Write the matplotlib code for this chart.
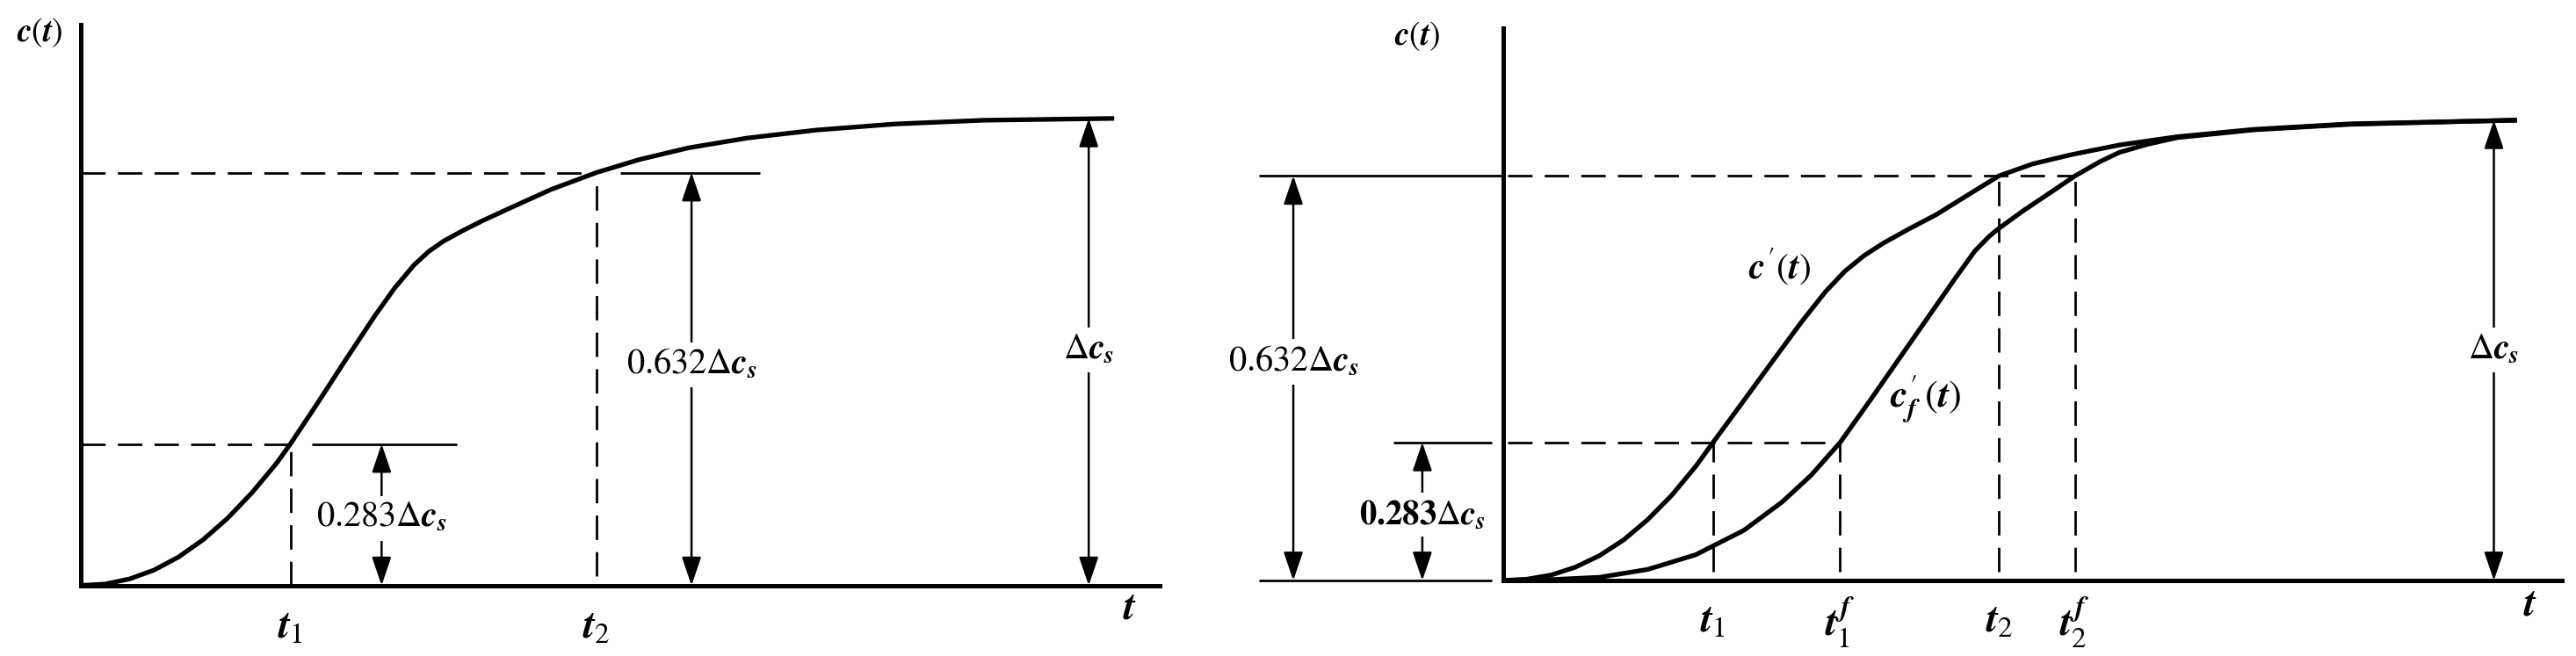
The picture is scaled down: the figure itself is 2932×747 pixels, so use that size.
import numpy as np
import matplotlib.pyplot as plt
from matplotlib.patches import ArrowStyle

# 字体：Times 风格（STIX），变量用粗斜体
plt.rcParams['mathtext.fontset'] = 'custom'
plt.rcParams['mathtext.rm'] = 'STIXGeneral'
plt.rcParams['mathtext.it'] = 'STIXGeneral:italic:bold'
plt.rcParams['mathtext.bf'] = 'STIXGeneral:bold'
plt.rcParams['font.family'] = ['STIXGeneral', 'DejaVu Serif']

# ---- 左图数据 (t, c)，c=1 为稳态值 Δc_s ----
left_t = [0, 0.25, 0.5, 0.75, 1.0, 1.25, 1.5, 1.75, 2.0, 2.14, 2.4, 2.7, 3.0,
          3.2, 3.4, 3.55, 3.7, 3.9, 4.1, 4.4, 4.8, 5.26, 5.7, 6.2, 6.8, 7.5,
          8.3, 9.2, 10.54]
left_c = [0, 0.003, 0.014, 0.033, 0.061, 0.098, 0.144, 0.199, 0.262, 0.303,
          0.385, 0.482, 0.577, 0.636, 0.686, 0.715, 0.737, 0.760, 0.781, 0.81,
          0.848, 0.884, 0.912, 0.937, 0.958, 0.975, 0.988, 0.996, 1.0]
left_t1, left_t2 = 2.14, 5.26
left_lo, left_hi = 0.303, 0.884

# ---- 右图数据 ----
c1_t = [0, 0.25, 0.5, 0.75, 1.0, 1.25, 1.5, 1.75, 2.0, 2.18, 2.5, 2.8, 3.1,
        3.35, 3.55, 3.75, 3.95, 4.2, 4.5, 4.8, 5.15, 5.5, 5.9, 6.4, 7.0, 7.8,
        8.8, 10.53]
c1_c = [0, 0.003, 0.012, 0.029, 0.054, 0.088, 0.132, 0.185, 0.248, 0.30,
        0.391, 0.477, 0.562, 0.628, 0.672, 0.706, 0.733, 0.762, 0.795, 0.834,
        0.879, 0.905, 0.925, 0.946, 0.964, 0.98, 0.992, 1.0]
cf_t = [0, 0.5, 1.0, 1.5, 2.0, 2.5, 2.9, 3.2, 3.5, 3.8, 4.1, 4.4, 4.7, 4.9,
        5.05, 5.15, 5.4, 5.7, 5.94, 6.2, 6.4, 6.7, 7.0, 7.8, 8.8, 10.53]
cf_c = [0, 0.002, 0.007, 0.024, 0.056, 0.109, 0.171, 0.229, 0.30, 0.388,
        0.478, 0.568, 0.658, 0.716, 0.748, 0.765, 0.803, 0.845, 0.879, 0.91,
        0.93, 0.948, 0.962, 0.979, 0.991, 1.0]
r_t1, r_t1f, r_t2, r_t2f = 2.18, 3.50, 5.15, 5.94
r_lo, r_hi = 0.30, 0.879

lbl_hi = r'$0.632\Delta c_s$'
lbl_lo = r'$0.283\Delta c_s$'
lbl_ss = r'$\Delta c_s$'

W, H = 2932, 747
fig = plt.figure(figsize=(W / 100, H / 100), dpi=100)
split = 740 / 1568
axL = fig.add_axes([0, 0, split, 1])
axR = fig.add_axes([split, 0, 1 - split, 1])
axL.set_xlim(-0.821, 11.575)
axL.set_ylim(-0.151, 1.2535)
axR.set_xlim(-2.986, 11.143)
axR.set_ylim(-0.164, 1.261)
for ax in (axL, axR):
    ax.axis('off')

K = 'black'
dash = dict(color=K, lw=2.0, dashes=(10, 5))
thin = dict(color=K, lw=2.0, solid_capstyle='butt')
curve = dict(color=K, lw=3.8, solid_capstyle='butt', solid_joinstyle='round')
lbl_fs = 29
tfs = 34
sty = ArrowStyle('<|-|>', head_length=1.0, head_width=0.34)


def darrow(ax, t, c0, c1, text, c_txt, fs=lbl_fs):
    ax.annotate('', xy=(t, c1), xytext=(t, c0),
                arrowprops=dict(arrowstyle=sty, color=K, lw=1.8,
                                shrinkA=0, shrinkB=0, mutation_scale=20))
    ax.text(t, c_txt, text, ha='center', va='center', fontsize=fs,
            bbox=dict(facecolor='white', edgecolor='none', pad=5))


# ---------------- 左图 ----------------
axL.plot([0, 0, 11], [1.2, 0, 0], color=K, lw=3.6, solid_joinstyle='miter')
axL.plot(left_t, left_c, **curve)
axL.plot([0, left_t1], [left_lo, left_lo], **dash)
axL.plot([2.36, 3.84], [left_lo, left_lo], **thin)
axL.plot([left_t1, left_t1], [0, left_lo], **dash)
axL.plot([0, left_t2], [left_hi, left_hi], **dash)
axL.plot([5.5, 6.93], [left_hi, left_hi], **thin)
axL.plot([left_t2, left_t2], [0.02, left_hi], **dash)
darrow(axL, 3.07, 0, left_lo, lbl_lo, 0.144)
darrow(axL, 6.23, 0, left_hi, lbl_hi, 0.472)
darrow(axL, 10.28, 0, 1.0, lbl_ss, 0.504)
axL.text(-0.42, 1.183, r'$c(t)$', fontsize=27, ha='center', va='center')
axL.text(10.70, -0.049, r'$t$', fontsize=tfs, ha='center', va='center')
axL.text(left_t1, -0.09, r'$t_1$', fontsize=tfs, ha='center', va='center')
axL.text(left_t2, -0.09, r'$t_2$', fontsize=tfs, ha='center', va='center')

# ---------------- 右图 ----------------
axR.plot([0, 0, 11], [1.2, 0, 0], color=K, lw=3.6, solid_joinstyle='miter')
axR.plot([-2.54, -0.12], [0, 0], **thin)
axR.plot(c1_t, c1_c, **curve)
axR.plot(cf_t, cf_c, **curve)
axR.plot([-2.54, 0], [r_hi, r_hi], **thin)
axR.plot([0.05, r_t2f], [r_hi, r_hi], **dash)
axR.plot([-1.14, -0.12], [r_lo, r_lo], **thin)
axR.plot([0.05, r_t1f], [r_lo, r_lo], **dash)
for tt, top in [(r_t1, r_lo), (r_t1f, r_lo), (r_t2, r_hi), (r_t2f, r_hi)]:
    axR.plot([tt, tt], [0.02, top], **dash)
darrow(axR, -0.84, 0, r_lo, r'$\mathbf{0.283}\Delta c_s$', 0.143, fs=28)
darrow(axR, -2.18, 0, r_hi, lbl_hi, 0.475)
darrow(axR, 10.29, 0, 1.0, lbl_ss, 0.50)
axR.text(-0.89, 1.182, r'$c(t)$', fontsize=27, ha='center', va='center')
axR.text(10.67, -0.054, r'$t$', fontsize=tfs, ha='center', va='center')
axR.text(2.87, 0.682, r"$c^{\prime}(t)$", fontsize=30, ha='center', va='center')
axR.text(4.39, 0.396, r"$c_f^{\prime}\,(t)$", fontsize=32, ha='center', va='center')
for tt, s in [(r_t1, r'$t_1$'), (r_t1f, r'$t_1^f$'), (r_t2, r'$t_2$'),
              (r_t2f, r'$t_2^f$')]:
    axR.text(tt, -0.09, s, fontsize=tfs, ha='center', va='center')

fig.savefig('out.png', dpi=100, facecolor='white')
